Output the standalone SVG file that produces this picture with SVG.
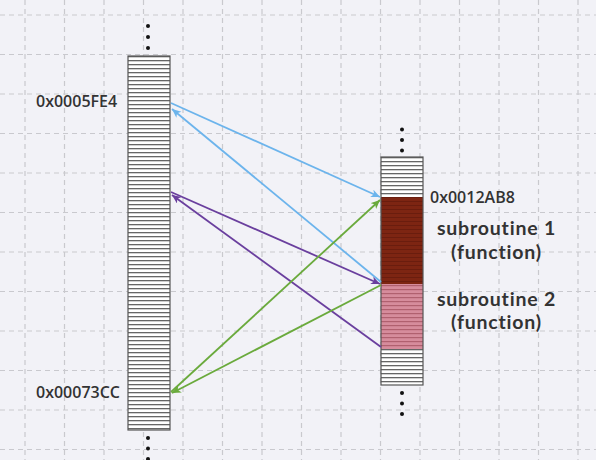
<svg xmlns="http://www.w3.org/2000/svg" width="596" height="460" viewBox="0 0 596 460">
<style>
.grid{stroke:#c9c9ce;stroke-width:1.2;stroke-dasharray:5 4;fill:none}
.lbl{font-family:"Open Sans","Noto Sans",sans-serif;font-weight:600;fill:#333;font-size:16px}
.sub{font-family:Lato,"Open Sans",sans-serif;font-weight:700;fill:#333;font-size:19.5px;letter-spacing:0.8px;text-anchor:middle}
.dot{fill:#111}
.col{stroke:#555;stroke-width:1.2;fill:none}
.blue{stroke:#6cb4ec;stroke-width:1.8;fill:none}
.purple{stroke:#6a3f9e;stroke-width:1.8;fill:none}
.green{stroke:#6aaa3c;stroke-width:1.8;fill:none}
</style>
<defs>
<pattern id="rowsL" patternUnits="userSpaceOnUse" x="0" y="56" width="596" height="4">
<rect width="596" height="4" fill="#fff"/>
<rect y="0" width="596" height="1.3" fill="#666"/>
</pattern>
<pattern id="rowsR" patternUnits="userSpaceOnUse" x="0" y="157" width="596" height="4">
<rect width="596" height="4" fill="#fff"/>
<rect y="0" width="596" height="1.3" fill="#666"/>
</pattern>
<pattern id="rowsRed" patternUnits="userSpaceOnUse" x="0" y="157" width="596" height="4">
<rect width="596" height="4" fill="#7d2512"/>
<rect y="0" width="596" height="1" fill="#6a1d0e"/>
</pattern>
<pattern id="rowsPink" patternUnits="userSpaceOnUse" x="0" y="157" width="596" height="4">
<rect width="596" height="4" fill="#d68c9c"/>
<rect y="0" width="596" height="1.2" fill="#b0606f"/>
</pattern>
<marker id="aBlue" markerUnits="userSpaceOnUse" markerWidth="12" markerHeight="12" refX="9" refY="4" orient="auto"><path d="M0,0 L9,4 L0,8 L2.5,4 Z" fill="#6cb4ec"/></marker>
<marker id="aPurple" markerUnits="userSpaceOnUse" markerWidth="12" markerHeight="12" refX="9" refY="4" orient="auto"><path d="M0,0 L9,4 L0,8 L2.5,4 Z" fill="#6a3f9e"/></marker>
<marker id="aGreen" markerUnits="userSpaceOnUse" markerWidth="12" markerHeight="12" refX="9" refY="4" orient="auto"><path d="M0,0 L9,4 L0,8 L2.5,4 Z" fill="#6aaa3c"/></marker>
</defs>
<rect width="596" height="460" fill="#f2f2f7"/>
<g id="grid" class="grid">
<path d="M25,0V460M64.5,0V460M104,0V460M143.5,0V460M183,0V460M222.5,0V460M262,0V460M301.5,0V460M341,0V460M380.5,0V460M420,0V460M459.5,0V460M499,0V460M538.5,0V460M578,0V460"/>
<path d="M0,15H596M0,54.5H596M0,94H596M0,133.5H596M0,173H596M0,212.5H596M0,252H596M0,291.5H596M0,331H596M0,370.5H596M0,410H596M0,449.5H596"/>
</g>
<g id="memory-left">
<rect x="128" y="56" width="42" height="374" fill="url(#rowsL)"/>
<rect x="128" y="56" width="42" height="374" class="col"/>
<circle class="dot" cx="148" cy="26" r="2"/><circle class="dot" cx="148" cy="37" r="2"/><circle class="dot" cx="148" cy="48" r="2"/>
<circle class="dot" cx="148" cy="438" r="2"/><circle class="dot" cx="148" cy="448.5" r="2"/><circle class="dot" cx="148" cy="459" r="2"/>
<text class="lbl" x="36" y="107">0x0005FE4</text>
<text class="lbl" x="36" y="397.5">0x00073CC</text>
</g>
<g id="memory-right">
<rect x="381" y="157" width="42" height="40" fill="url(#rowsR)"/>
<rect x="381" y="197" width="42" height="87" fill="url(#rowsRed)"/>
<rect x="381" y="284" width="42" height="65" fill="url(#rowsPink)"/>
<rect x="381" y="349" width="42" height="36" fill="url(#rowsR)"/>
<rect x="381" y="157" width="42" height="228" class="col"/>
<circle class="dot" cx="402" cy="129.5" r="2"/><circle class="dot" cx="402" cy="140" r="2"/><circle class="dot" cx="402" cy="150.5" r="2"/>
<circle class="dot" cx="402" cy="393" r="2"/><circle class="dot" cx="402" cy="403.5" r="2"/><circle class="dot" cx="402" cy="414" r="2"/>
<text class="lbl" x="430" y="203.3">0x0012AB8</text>
</g>
<g id="subroutine1">
<text class="sub" x="496.5" y="235">subroutine 1</text>
<text class="sub" x="496.5" y="258.5">(function)</text>
</g>
<g id="subroutine2">
<text class="sub" x="496.5" y="305.5">subroutine 2</text>
<text class="sub" x="496.5" y="329">(function)</text>
</g>
<g id="connectors">
<line class="blue" x1="171" y1="103" x2="380" y2="197" marker-end="url(#aBlue)"/>
<line class="blue" x1="381" y1="282" x2="172" y2="109" marker-end="url(#aBlue)"/>
<line class="purple" x1="171" y1="192" x2="380" y2="284" marker-end="url(#aPurple)"/>
<line class="purple" x1="381" y1="347" x2="172" y2="195" marker-end="url(#aPurple)"/>
<line class="green" x1="171" y1="392" x2="380" y2="200" marker-end="url(#aGreen)"/>
<line class="green" x1="381" y1="285" x2="172" y2="393" marker-end="url(#aGreen)"/>
</g>
</svg>
